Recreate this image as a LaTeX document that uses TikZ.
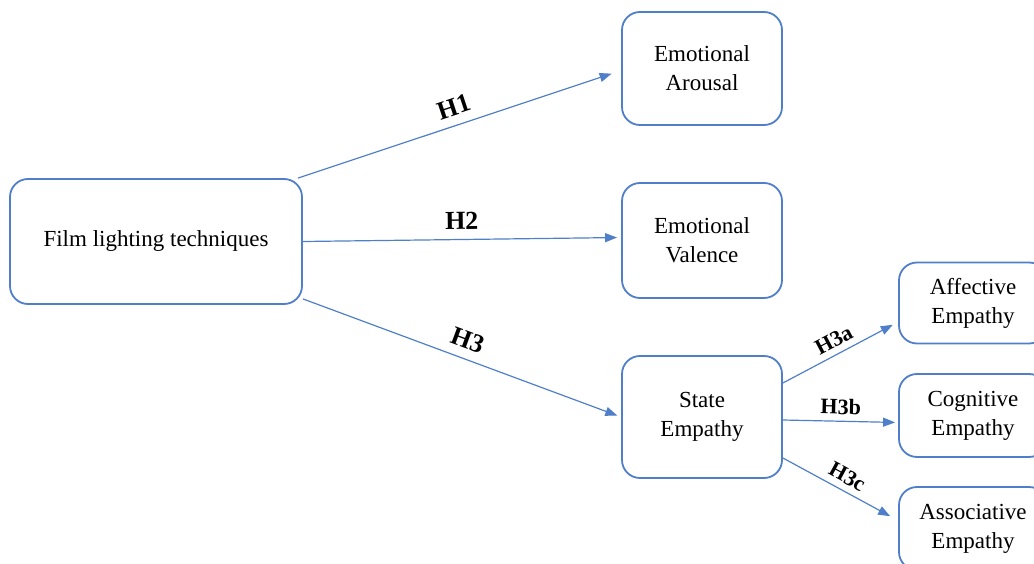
\documentclass[tikz,border=0pt]{standalone}
\usepackage{fontspec}
\setmainfont{Liberation Serif}
\usepackage{tikz}
\usetikzlibrary{arrows.meta}
\definecolor{boxblue}{RGB}{80,127,202}
\tikzset{
  box/.style={
    draw=boxblue,
    line width=1.8pt,
    rounded corners=18pt,
    align=center,
    inner sep=0pt,
    font=\fontsize{23}{29}\selectfont
  },
  bigbox/.style={box, minimum width=292, minimum height=125},
  midbox/.style={box, minimum width=160, minimum height=113},
  smallbox/.style={box, minimum width=148, minimum height=81},
  hyp/.style={font=\bfseries\fontsize{26}{26}\selectfont, sloped, above=6pt},
  subhyp/.style={font=\bfseries\fontsize{22}{22}\selectfont, sloped, above=3pt},
  every edge/.style={draw=boxblue, -{Triangle[length=12pt,width=9pt]}, line width=1.2pt}
}

\begin{document}
\begin{tikzpicture}[x=1pt,y=-1pt]
  \useasboundingbox (0,0) rectangle (1034,564);
  \clip (0,0) rectangle (1034,564);

  \node[bigbox] (film) at (156,241.5) {Film lighting techniques};

  \node[midbox] (arousal) at (702,68.5) {Emotional\\Arousal};
  \node[midbox, minimum height=115] (valence) at (702,240.5) {Emotional\\Valence};
  \node[midbox, minimum height=122] (state) at (702,417) {State\\Empathy};

  \node[smallbox] (affective) at (973,303) {Affective\\Empathy};
  \node[smallbox, minimum height=83] (cognitive) at (973,415.5) {Cognitive\\Empathy};
  \node[smallbox, minimum height=83] (associative) at (973,528.5) {Associative\\Empathy};

  \path ([xshift=-5pt]film.north east) edge[shorten >=10pt] node[hyp] {H1} ([yshift=-2pt]arousal.west)
        (film.east) edge[shorten >=4pt] node[hyp] {H2} ([yshift=3pt]valence.west)
        ([yshift=6pt]film.south east) edge[shorten >=4pt] node[hyp] {H3} (state.west)
        ([yshift=34pt]state.east) edge[shorten >=6pt] node[subhyp] {H3a} ([yshift=-19pt]affective.west)
        ([yshift=-3pt]state.east) edge[shorten >=3pt] node[subhyp] {H3b} ([yshift=-7pt]cognitive.west)
        ([yshift=-41pt]state.east) edge[shorten >=9pt] node[subhyp] {H3c} ([yshift=8pt]associative.west);
\end{tikzpicture}
\end{document}
